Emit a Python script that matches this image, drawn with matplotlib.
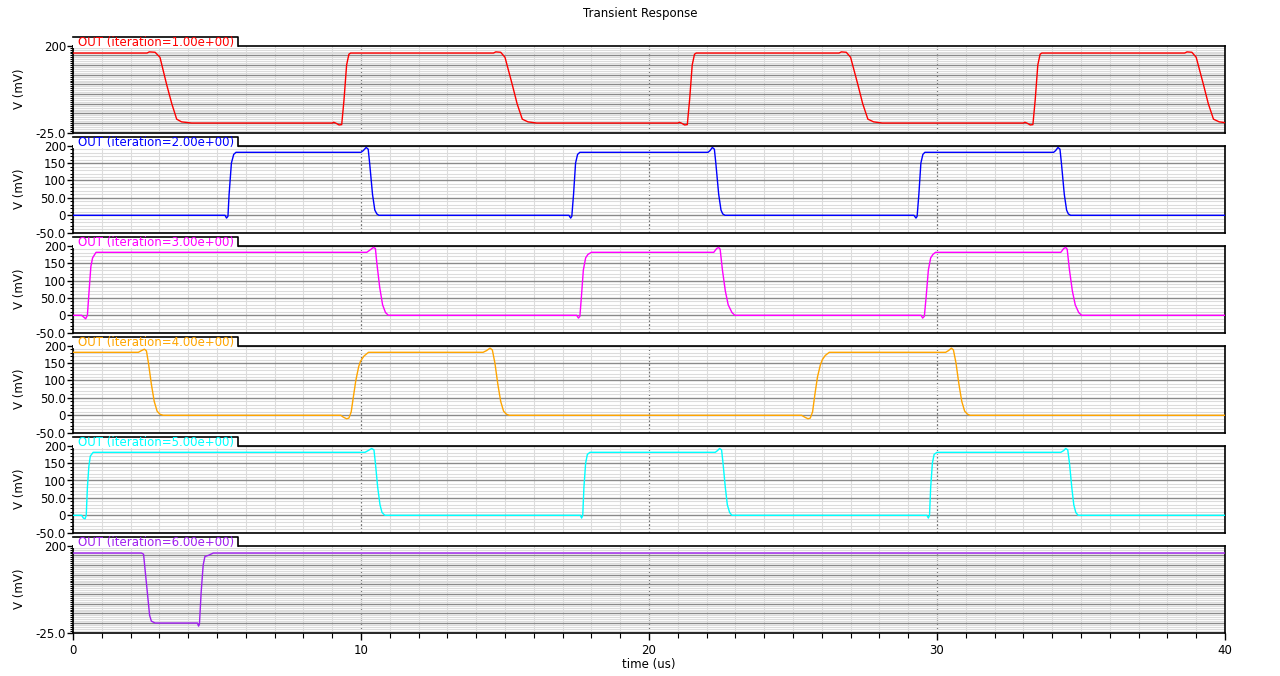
import matplotlib
matplotlib.use("Agg")
import matplotlib.pyplot as plt
from matplotlib.ticker import FixedLocator, FixedFormatter, MultipleLocator
from matplotlib.patches import Rectangle
from matplotlib.lines import Line2D

# ---------------- data (time in us, voltage in mV) ----------------
t1 = [0, 2.57, 2.65, 2.85, 3.02, 3.25, 3.43, 3.6, 3.77, 4.12,
      9.0, 9.05, 9.12, 9.24, 9.33, 9.41, 9.5, 9.58, 9.64,
      14.6, 14.68, 14.85, 15.0, 15.25, 15.42, 15.6, 15.8, 16.1,
      21.0, 21.05, 21.12, 21.24, 21.33, 21.41, 21.5, 21.58, 21.64,
      26.6, 26.68, 26.85, 27.0, 27.25, 27.42, 27.6, 27.8, 28.1,
      33.0, 33.05, 33.12, 33.24, 33.33, 33.41, 33.5, 33.58, 33.64,
      38.6, 38.68, 38.85, 39.0, 39.25, 39.42, 39.6, 39.8, 40.0]
v1 = [181, 181, 184, 183, 170, 100, 50, 10, 3, 0,
      0, 2, 0, -5, -4, 60, 150, 178, 181,
      181, 184, 183, 170, 100, 50, 10, 3, 0,
      0, 2, 0, -5, -4, 60, 150, 178, 181,
      181, 184, 183, 170, 100, 50, 10, 3, 0,
      0, 2, 0, -5, -4, 60, 150, 178, 181,
      181, 184, 183, 170, 100, 50, 10, 3, 1]

t2 = [0, 5.28, 5.33, 5.38, 5.42, 5.5, 5.58, 5.66,
      10.0, 10.08, 10.18, 10.25, 10.3, 10.4, 10.48, 10.55, 10.62,
      17.22, 17.28, 17.32, 17.38, 17.45, 17.52, 17.6,
      22.05, 22.12, 22.2, 22.27, 22.32, 22.42, 22.5, 22.56, 22.64,
      29.2, 29.27, 29.31, 29.37, 29.44, 29.51, 29.58,
      34.05, 34.12, 34.2, 34.27, 34.32, 34.42, 34.5, 34.56, 34.64, 40.0]
v2 = [0, 0, -8, -3, 60, 150, 175, 181,
      181, 186, 195, 190, 150, 60, 15, 4, 0,
      0, -8, -3, 60, 150, 175, 181,
      181, 186, 195, 190, 150, 60, 15, 4, 0,
      0, -8, -3, 60, 150, 175, 181,
      181, 186, 195, 190, 150, 60, 15, 4, 0, 0]

t3 = [0, 0.3, 0.37, 0.44, 0.5, 0.55, 0.62, 0.68, 0.8,
      10.2, 10.32, 10.43, 10.5, 10.55, 10.65, 10.75, 10.85, 10.95,
      17.49, 17.55, 17.6, 17.65, 17.72, 17.8, 17.88, 18.0,
      22.25, 22.35, 22.42, 22.47, 22.55, 22.65, 22.75, 22.88, 22.98,
      29.45, 29.5, 29.56, 29.62, 29.7, 29.78, 29.86, 29.95,
      34.3, 34.4, 34.47, 34.52, 34.6, 34.7, 34.8, 34.92, 35.02, 40.0]
v3 = [0, 0, -5, -10, 0, 60, 140, 165, 181,
      181, 188, 195, 192, 150, 80, 30, 8, 0,
      0, -8, -3, 50, 130, 165, 175, 181,
      181, 192, 195, 190, 130, 70, 30, 8, 0,
      0, -8, -3, 50, 130, 165, 175, 181,
      181, 192, 195, 190, 130, 70, 30, 8, 0, 0]

t4 = [0, 2.27, 2.38, 2.48, 2.55, 2.62, 2.72, 2.82, 2.92, 3.02, 3.13,
      9.3, 9.38, 9.5, 9.58, 9.66, 9.73, 9.82, 9.92, 9.98, 10.1, 10.26,
      14.24, 14.36, 14.48, 14.56, 14.65, 14.75, 14.85, 14.95, 15.05, 15.15,
      25.3, 25.4, 25.52, 25.6, 25.68, 25.76, 25.85, 25.95, 26.02, 26.12, 26.26,
      30.3, 30.4, 30.5, 30.57, 30.66, 30.76, 30.86, 30.96, 31.06, 31.15, 40.0]
v4 = [181, 181, 186, 190, 185, 150, 90, 40, 12, 3, 0,
      0, -5, -10, -8, 10, 50, 100, 140, 155, 170, 181,
      181, 186, 193, 188, 150, 90, 40, 12, 3, 0,
      0, -5, -10, -8, 10, 60, 110, 145, 160, 172, 181,
      181, 186, 193, 188, 150, 90, 40, 12, 3, 0, 0]

t5 = [0, 0.3, 0.36, 0.42, 0.46, 0.5, 0.55, 0.6, 0.7,
      10.14, 10.25, 10.37, 10.45, 10.5, 10.58, 10.66, 10.73, 10.83,
      17.62, 17.66, 17.7, 17.74, 17.8, 17.86, 17.95,
      22.3, 22.38, 22.45, 22.52, 22.57, 22.65, 22.72, 22.8, 22.88,
      29.65, 29.7, 29.74, 29.78, 29.84, 29.9, 30.0,
      34.3, 34.4, 34.47, 34.54, 34.6, 34.68, 34.75, 34.82, 34.9, 40.0]
v5 = [0, 0, -8, -10, 0, 80, 140, 170, 181,
      181, 186, 192, 188, 150, 80, 30, 8, 0,
      0, -8, 0, 80, 150, 175, 181,
      181, 186, 192, 188, 150, 80, 30, 8, 0,
      0, -8, 0, 80, 150, 175, 181,
      181, 186, 192, 188, 150, 80, 30, 8, 0, 0]

t6 = [0, 2.38, 2.45, 2.5, 2.58, 2.66, 2.72, 2.85,
      4.32, 4.36, 4.39, 4.45, 4.52, 4.58, 4.7, 4.87, 40.0]
v6 = [181, 181, 178, 140, 80, 20, 5, 0,
      0, -8, -3, 80, 150, 172, 175, 181, 181]

series_t = [t1, t2, t3, t4, t5, t6]
series_v = [v1, v2, v3, v4, v5, v6]
labels = ["OUT (iteration=1.00e+00)", "OUT (iteration=2.00e+00)",
          "OUT (iteration=3.00e+00)", "OUT (iteration=4.00e+00)",
          "OUT (iteration=5.00e+00)", "OUT (iteration=6.00e+00)"]
colors = ["#ff0000", "#0000ff", "#ff00ff", "#ffa500", "#00ffff", "#a020f0"]

narrow_ticks = [-25, 200]
narrow_ticklabels = ["-25.0", "200"]
wide_ticks = [-50, 0, 50, 100, 150, 200]
wide_ticklabels = ["-50.0", "0", "50.0", "100", "150", "200"]
x_ticks = [0, 10, 20, 30, 40]
x_ticklabels = ["0", "10", "20", "30", "40"]

# ---------------- figure ----------------
W, H = 1280, 676
fig = plt.figure(figsize=(W / 100, H / 100), dpi=100)
plt.rcParams['font.family'] = ['DejaVu Sans']

left_px, right_px = 73, 1225
ph = 87.0
FS = 8.5

for k in range(6):
    top_px = 45.7 + 100 * k
    ax = fig.add_axes([left_px / W, 1 - (top_px + ph) / H,
                       (right_px - left_px) / W, ph / H])
    ax.plot(series_t[k], series_v[k], color=colors[k], lw=1.0, zorder=5)
    ax.set_xlim(0, 40)
    narrow = k in (0, 5)
    if narrow:
        ax.set_ylim(-25, 200)
        ax.yaxis.set_major_locator(MultipleLocator(25))
        ax.yaxis.set_minor_locator(MultipleLocator(5))
        ax.set_yticks(narrow_ticks, minor=False)
        ax.set_yticklabels(narrow_ticklabels)
        # major horizontal grid every 25
        for yv in range(0, 200, 25):
            ax.axhline(yv, color="#8a8a8a", lw=1.0, zorder=2)
    else:
        ax.set_ylim(-50, 200)
        ax.set_yticks(wide_ticks)
        ax.set_yticklabels(wide_ticklabels)
        ax.yaxis.set_minor_locator(MultipleLocator(10))
        ax.yaxis.grid(True, which="major", color="#8a8a8a", lw=1.0, zorder=2)
    ax.set_xticks(x_ticks)
    ax.xaxis.set_minor_locator(MultipleLocator(1))
    ax.xaxis.grid(True, which="minor", color="#dcdcdc", lw=0.8, zorder=1)
    ax.yaxis.grid(True, which="minor", color="#dcdcdc", lw=0.8, zorder=1)
    ax.xaxis.grid(True, which="major", color="#707070", lw=0.9,
                  linestyle=(0, (1.5, 1.5)), zorder=2)
    ax.set_axisbelow(True)
    ax.tick_params(axis="y", which="major", direction="out", length=4,
                   width=1, labelsize=FS, pad=1)
    ax.tick_params(axis="y", which="minor", direction="out", length=2,
                   width=0.8)
    if k < 5:
        ax.tick_params(axis="x", which="both", length=0, labelbottom=False)
    else:
        ax.set_xticklabels(x_ticklabels)
        ax.tick_params(axis="x", which="major", direction="out", length=5,
                       width=1, labelsize=FS, pad=3)
        ax.tick_params(axis="x", which="minor", direction="out", length=3.5,
                       width=0.8)
        ax.set_xlabel("time (us)", fontsize=FS, labelpad=1)
    for s in ax.spines.values():
        s.set_color("black")
        s.set_linewidth(1.2)
    ax.set_ylabel("V (mV)", fontsize=FS, labelpad=6)
    ax.yaxis.set_label_coords(-0.041, 0.5)

    # label box sitting on the top spine
    bw = (237.7 - left_px) / (right_px - left_px)
    btop = 1 + 8.4 / ph
    bbot = 1 - 2.5 / ph
    ax.add_patch(Rectangle((0, bbot), bw, btop - bbot, transform=ax.transAxes,
                           facecolor="white", edgecolor="none", clip_on=False,
                           zorder=10))
    ax.add_line(Line2D([0, bw, bw], [btop, btop, 1.0], transform=ax.transAxes,
                       color="black", lw=1.2, clip_on=False, zorder=11))
    ax.text(5 / (right_px - left_px), 1 + 3.0 / ph, labels[k],
            transform=ax.transAxes, color=colors[k], fontsize=FS,
            va="center", ha="left", zorder=12)

fig.text(0.5, 1 - 14 / H, "Transient Response", ha="center", va="center",
         fontsize=FS)

fig.savefig("out.png", dpi=100)
